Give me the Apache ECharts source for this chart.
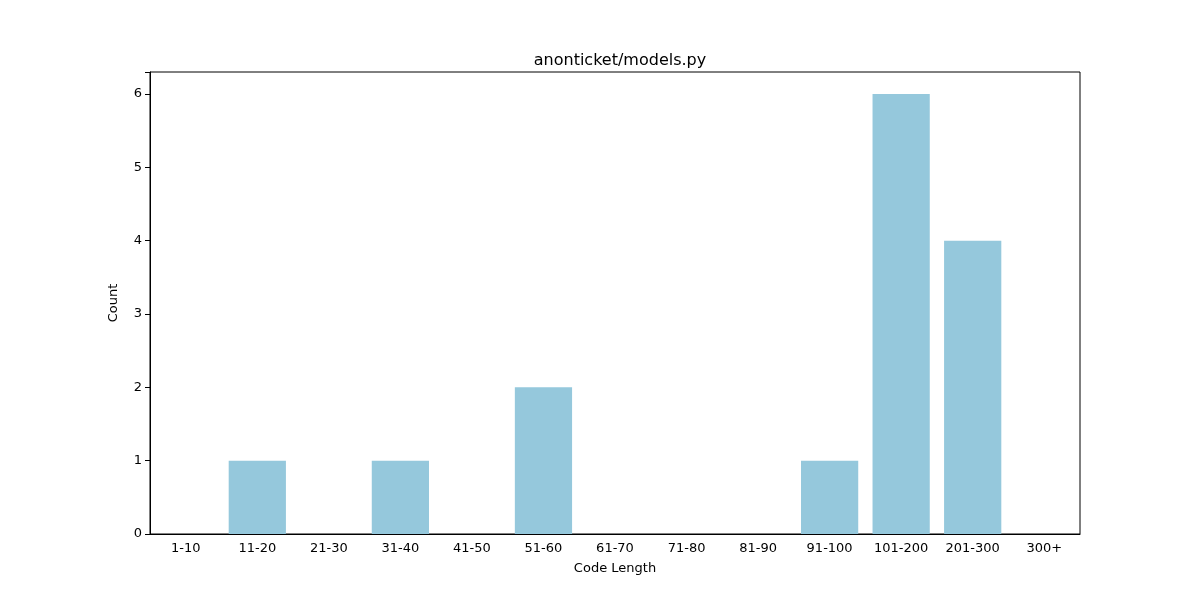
<!DOCTYPE html>
<html>
<head>
<meta charset="utf-8">
<script src="https://cdn.jsdelivr.net/npm/echarts@6/dist/echarts.min.js"></script>
<style>html,body{margin:0;padding:0;background:#fff}#main{width:1200px;height:600px}</style>
</head>
<body>
<div id="main"></div>
<script>
// code length buckets and counts
var categories = ['1-10', '11-20', '21-30', '31-40', '41-50', '51-60', '61-70', '71-80', '81-90', '91-100', '101-200', '201-300', '300+'];
var counts = [0, 1, 0, 1, 0, 2, 0, 0, 0, 1, 6, 4, 0];

var chart = echarts.init(document.getElementById('main'));
var font = 'DejaVu Sans';

chart.setOption({
  animation: false,
  textStyle: {fontFamily: font},
  title: {
    text: 'anonticket/models.py',
    left: 615, top: 48, textAlign: 'center',
    textStyle: {fontSize: 16, fontWeight: 'normal', color: '#000', fontFamily: font}
  },
  grid: {left: 150, right: 120, top: 72, bottom: 66, show: true, borderColor: '#000', borderWidth: 1},
  xAxis: {
    type: 'category',
    data: categories,
    name: 'Code Length', nameLocation: 'middle', nameGap: 28,
    nameTextStyle: {fontSize: 13, color: '#000'},
    axisLine: {lineStyle: {color: '#000'}},
    axisTick: {alignWithLabel: true, lineStyle: {color: '#000'}},
    axisLabel: {color: '#000', fontSize: 13, margin: 8}
  },
  yAxis: {
    type: 'value', min: 0, max: 6.3, interval: 1,
    name: 'Count', nameLocation: 'middle', nameGap: 30,
    nameTextStyle: {fontSize: 13, color: '#000'},
    axisLine: {show: true, lineStyle: {color: '#000'}},
    axisTick: {show: true, lineStyle: {color: '#000'}},
    splitLine: {show: false},
    axisLabel: {color: '#000', fontSize: 13, formatter: function (v) { return Number.isInteger(v) ? v : ''; }}
  },
  series: [{
    type: 'bar',
    data: counts,
    barCategoryGap: '20%',
    itemStyle: {color: '#95c8dc'}
  }]
});
</script>
</body>
</html>
